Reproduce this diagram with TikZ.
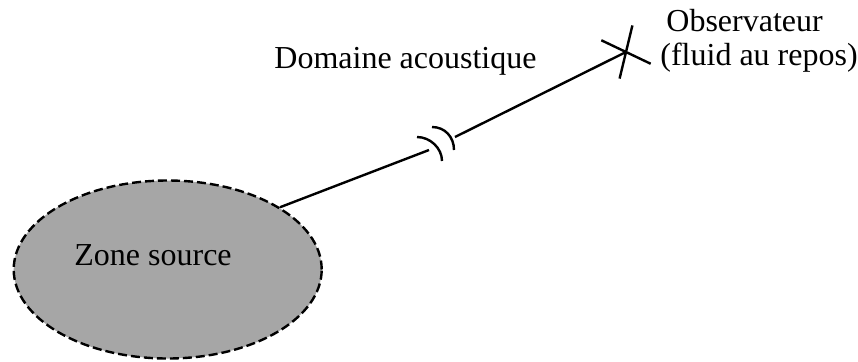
\documentclass[tikz,border=0pt]{standalone}
\usepackage{fontspec}
\setmainfont{Liberation Serif}
\usetikzlibrary{shapes.geometric,shapes.misc,positioning}
\definecolor{zonegris}{RGB}{166,166,166}

\begin{document}
\begin{tikzpicture}[x=0.5pt, y=-0.5pt,
  zone/.style={ellipse, draw=black, fill=zonegris, line width=1.2pt, dash pattern=on 4.5pt off 2pt,
    minimum width=154pt, minimum height=89pt, inner sep=0pt},
  lbl/.style={font=\fontsize{16}{17}\selectfont, inner sep=0pt, anchor=base west},
  obsmark/.style={cross out, draw=black, line width=1.2pt, minimum width=16pt, minimum height=20pt,
    inner sep=0pt, rotate=25.5},
  lien/.style={line width=1.2pt},
  coupure/.style={line width=1.2pt}]
\useasboundingbox (0,0) rectangle (858,361);
\node[zone] (src) at (167.7,269.5) {};
\node[lbl] (srclbl) at (74,265) {Zone source};
\node[obsmark] (obs) at (626,52) {};
\node[lbl] (dom) at (274,68) {Domaine acoustique};
\node[lbl] (obs1) at (666,31) {Observateur};
\node[lbl] (obs2) at (660,65) {(fluid au repos)};
\coordinate (cut1) at (429,150);
\coordinate (cut2) at (455,137);
\draw[lien] (src.29) -- (cut1);
\draw[lien] (cut2) -- (obs.center);
% coupure du domaine
\draw[coupure] (417,137) .. controls (430,137) and (442,148) .. (442,161);
\draw[coupure] (432,127) .. controls (445,127) and (454,137) .. (454,150);
\end{tikzpicture}
\end{document}
